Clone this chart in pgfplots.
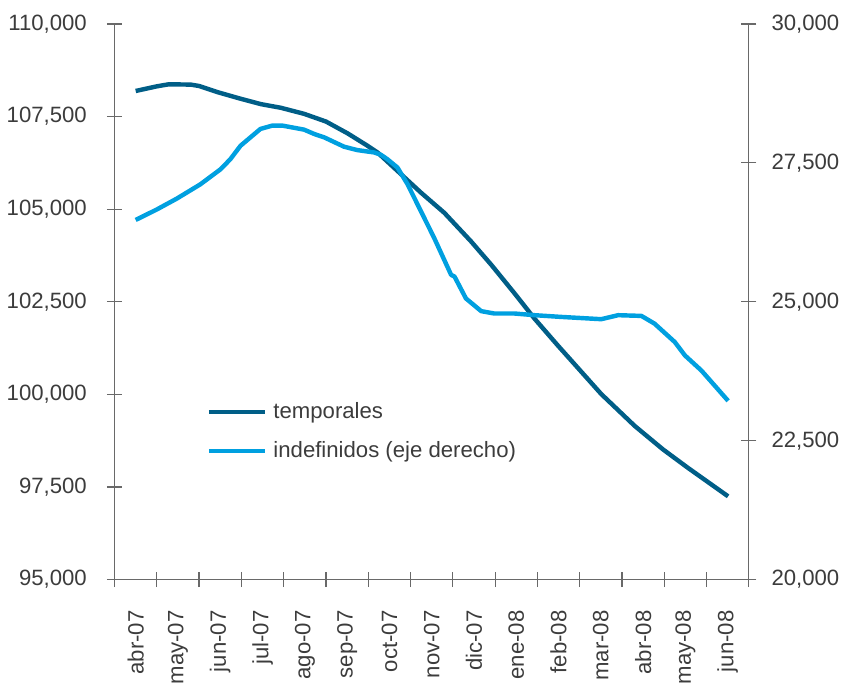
\documentclass[border=0pt]{standalone}
\usepackage{fontspec}
\setmainfont{Liberation Sans}
\usepackage{pgfplots}
\usepackage{pgfplotstable}
\pgfplotsset{compat=1.18}
\definecolor{tempcol}{RGB}{0,94,135}
\definecolor{indcol}{RGB}{0,160,224}
\definecolor{axcol}{RGB}{105,105,105}
\definecolor{txtcol}{RGB}{60,60,60}

% x: month index (0 = abr-07)
\pgfplotstableread{
x     y
0.00  108190
0.50  108315
0.78  108370
1.30  108362
1.50  108324
1.93  108160
2.48  107981
2.96  107835
3.43  107737
3.98  107574
4.50  107365
5.01  107047
5.48  106713
5.72  106530
6.19  106033
6.75  105443
7.30  104900
7.93  104131
8.41  103498
8.96  102727
9.43  102048
9.98  101325
11.01 100010
11.80 99151
12.47 98516
13.06 98018
14.01 97249
}\temporales

\pgfplotstableread{
x     y
0.00  26473
0.50  26661
0.98  26860
1.53  27114
2.01  27386
2.24  27567
2.48  27808
2.95  28110
3.23  28170
3.47  28170
3.98  28098
4.22  28020
4.46  27958
4.93  27790
5.24  27730
5.64  27687
5.80  27645
5.95  27567
6.19  27416
6.43  27114
7.06  26147
7.46  25484
7.54  25454
7.81  25060
8.17  24832
8.48  24789
8.96  24789
9.43  24759
10.06 24728
11.01 24687
11.41 24759
11.96 24746
12.27 24607
12.75 24275
12.99 24034
13.38 23762
14.01 23218
}\indefinidos

\pgfplotsset{
  base/.style={
    scale only axis, width=315pt, height=276pt,
    xmin=-0.5, xmax=14.5,
    tick align=center,
    major tick length=7.5pt,
    tick style={axcol, line width=0.6pt},
    axis line style={axcol, line width=0.6pt},
    tick label style={font=\fontsize{11}{13}\selectfont, text=txtcol},
    scaled y ticks=false,
    /pgf/number format/fixed,
    /pgf/number format/1000 sep={,},
    /pgf/number format/assume math mode=true,
  }
}

\begin{document}
\begin{tikzpicture}
\begin{axis}[base,
  axis x line*=bottom, axis y line*=left,
  ymin=95000, ymax=110000,
  ytick={95000,97500,100000,102500,105000,107500,110000},
  yticklabel shift=6.5pt,
  xtick={0,...,14},
  xticklabels={abr-07,may-07,jun-07,jul-07,ago-07,sep-07,oct-07,nov-07,dic-07,ene-08,feb-08,mar-08,abr-08,may-08,jun-08},
  xticklabel style={rotate=90, anchor=east},
  xticklabel shift=8pt,
  major x tick style={draw=none},
  extra x ticks={-0.5,0.5,1.5,2.5,3.5,4.5,5.5,6.5,7.5,8.5,9.5,10.5,11.5,12.5,13.5,14.5},
  extra x tick labels={},
  extra x tick style={major x tick style={draw=axcol, line width=0.6pt}},
]
\addplot[tempcol, line width=2.2pt, line join=round] table {\temporales};
\end{axis}
\begin{axis}[base,
  axis x line=none, axis y line*=right,
  ymin=20000, ymax=30000,
  ytick={20000,22500,25000,27500,30000},
  yticklabel shift=4pt,
  legend style={at={(0.135,0.334)}, anchor=north west, draw=none, fill=none,
    font=\fontsize{11}{13}\selectfont, text=txtcol, row sep=6pt},
  legend cell align=left,
  legend image code/.code={\draw[#1] (0pt,0pt) -- (28pt,0pt);},
]
\addlegendimage{tempcol, line width=2.2pt}
\addlegendentry{\hspace{1pt}temporales}
\addplot[indcol, line width=2.2pt, line join=round] table {\indefinidos};
\addlegendentry{\hspace{1pt}indefinidos (eje derecho)}
\end{axis}
\path (current bounding box.north) ++(0,4pt);
\end{tikzpicture}
\end{document}
